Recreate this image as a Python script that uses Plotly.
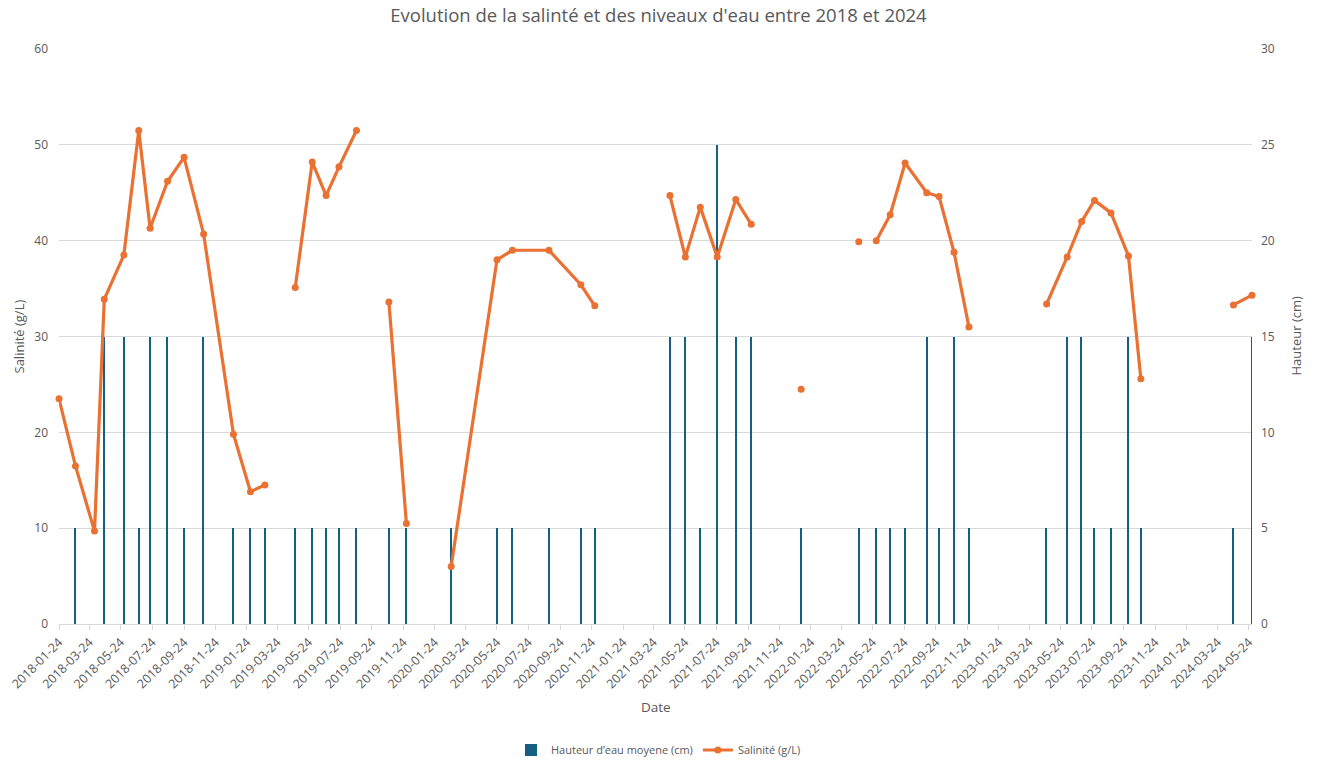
import plotly.graph_objects as go

# ---- data ----
dates = [
    "2018-01-24", "2018-02-25", "2018-04-03", "2018-04-22", "2018-05-30", "2018-06-28",
    "2018-07-20", "2018-08-23", "2018-09-24", "2018-11-01", "2018-12-29", "2019-01-31",
    "2019-02-28", "2019-03-28", "2019-04-28", "2019-05-31", "2019-06-27", "2019-07-22",
    "2019-08-25", "2019-09-25", "2019-10-27", "2019-11-30", "2020-01-10", "2020-02-25",
    "2020-05-24", "2020-06-23", "2020-09-02", "2020-11-03", "2020-11-30", "2021-02-15",
    "2021-04-25", "2021-05-25", "2021-06-23", "2021-07-26", "2021-08-31", "2021-09-30",
    "2021-11-15", "2022-01-05", "2022-03-01", "2022-04-27", "2022-05-14", "2022-05-31",
    "2022-06-27", "2022-07-26", "2022-09-06", "2022-09-30", "2022-10-29", "2022-11-27",
    "2023-02-15", "2023-04-27", "2023-06-06", "2023-07-04", "2023-07-29", "2023-08-30",
    "2023-10-03", "2023-10-27", "2024-01-15", "2024-04-24", "2024-05-30",
]
hauteur_cm = [
    None, 5, None, 15, 15, 5,
    15, 15, 5, 15, 5, 5,
    5, None, 5, 5, 5, 5,
    5, None, 5, 5, None, 5,
    5, 5, 5, 5, 5, None,
    15, 15, 5, 25, 15, 15,
    None, 5, None, 5, None, 5,
    5, 5, 15, 5, 15, 5,
    None, 5, 15, 15, 5, 5,
    15, 5, None, 5, 15,
]
salinite_gl = [
    23.5, 16.5, 9.7, 33.9, 38.5, 51.5,
    41.3, 46.2, 48.7, 40.7, 19.8, 13.8,
    14.5, None, 35.1, 48.2, 44.7, 47.7,
    51.5, None, 33.6, 10.5, None, 6.0,
    38.0, 39.0, 39.0, 35.4, 33.2, None,
    44.7, 38.3, 43.5, 38.3, 44.3, 41.7,
    None, 24.5, None, 39.9, None, 40.0,
    42.7, 48.1, 45.0, 44.6, 38.8, 31.0,
    None, 33.4, 38.3, 42.0, 44.2, 42.9,
    38.4, 25.6, None, 33.3, 34.3,
]

title_text = "Evolution de la salinté et des niveaux d'eau entre 2018 et 2024"
bar_name = "Hauteur d’eau moyene (cm)"
line_name = "Salinité (g/L)"
x_title = "Date"
y_left_title = "Salinité (g/L)"
y_right_title = "Hauteur (cm)"

BLUE = "#156082"
ORANGE = "#E97132"
GRID = "#D9D9D9"
TXT = "#595959"
FONT = "Open Sans"

fig = go.Figure()

fig.add_trace(go.Bar(
    x=dates, y=hauteur_cm, name=bar_name,
    marker=dict(color=BLUE, line=dict(width=0)),
    width=2.6 * 86400000,
    yaxis="y",
))

fig.add_trace(go.Scatter(
    x=dates, y=salinite_gl, name=line_name,
    mode="lines+markers",
    line=dict(color=ORANGE, width=3.2),
    marker=dict(color=ORANGE, size=7),
    connectgaps=False,
    cliponaxis=False,
    yaxis="y2",
))

W, H = 1317, 762
L, R, T, B = 59, 65, 49, 138

fig.update_layout(
    width=W, height=H,
    paper_bgcolor="white", plot_bgcolor="white",
    font=dict(family=FONT, color=TXT, size=12),
    margin=dict(l=L, r=R, t=T, b=B, autoexpand=False),
    title=dict(text=title_text, x=0.5, xanchor="center", y=1 - 16 / H, yanchor="middle",
               font=dict(size=18.5, color=TXT, family=FONT)),
    bargap=0,
    showlegend=True,
    legend=dict(orientation="h", x=0.5, xanchor="center", xref="container",
                y=(H - 750) / H, yref="container", yanchor="middle",
                font=dict(size=11, color=TXT), traceorder="normal"),
    xaxis=dict(
        type="date",
        range=["2018-01-24", "2024-05-30"],
        tick0="2018-01-24", dtick="M2", tickformat="%Y-%m-%d",
        tickangle=-45, tickfont=dict(size=12.5, color=TXT),
        showgrid=False, showline=True, linecolor=GRID, linewidth=1,
        ticks="outside", ticklen=5, tickcolor=GRID,
        zeroline=False, automargin=False,
    ),
    yaxis=dict(
        side="right", range=[0, 30], dtick=5,
        showgrid=True, gridcolor=GRID, gridwidth=1,
        zeroline=False, showline=False,
        tickfont=dict(size=12, color=TXT), ticks="", ticklabelstandoff=8,
        automargin=False,
    ),
    yaxis2=dict(
        side="left", overlaying="y", range=[0, 60], dtick=10,
        showgrid=False, zeroline=False, showline=False,
        tickfont=dict(size=12, color=TXT), ticks="", ticklabelstandoff=10,
        automargin=False,
    ),
    annotations=[
        dict(text=x_title, xref="paper", yref="paper", x=0.5, xanchor="center",
             y=-(707 - (H - B)) / (H - T - B), yanchor="middle", showarrow=False,
             font=dict(size=13.5, color=TXT)),
        dict(text=y_left_title, xref="paper", yref="paper", x=-(L - 18) / (W - L - R),
             xanchor="center", y=0.5, yanchor="middle", textangle=-90, showarrow=False,
             font=dict(size=13, color=TXT)),
        dict(text=y_right_title, xref="paper", yref="paper", x=1 + (1295 - (W - R)) / (W - L - R),
             xanchor="center", y=0.5, yanchor="middle", textangle=-90, showarrow=False,
             font=dict(size=13, color=TXT)),
    ],
)

fig.write_html("out.html")
